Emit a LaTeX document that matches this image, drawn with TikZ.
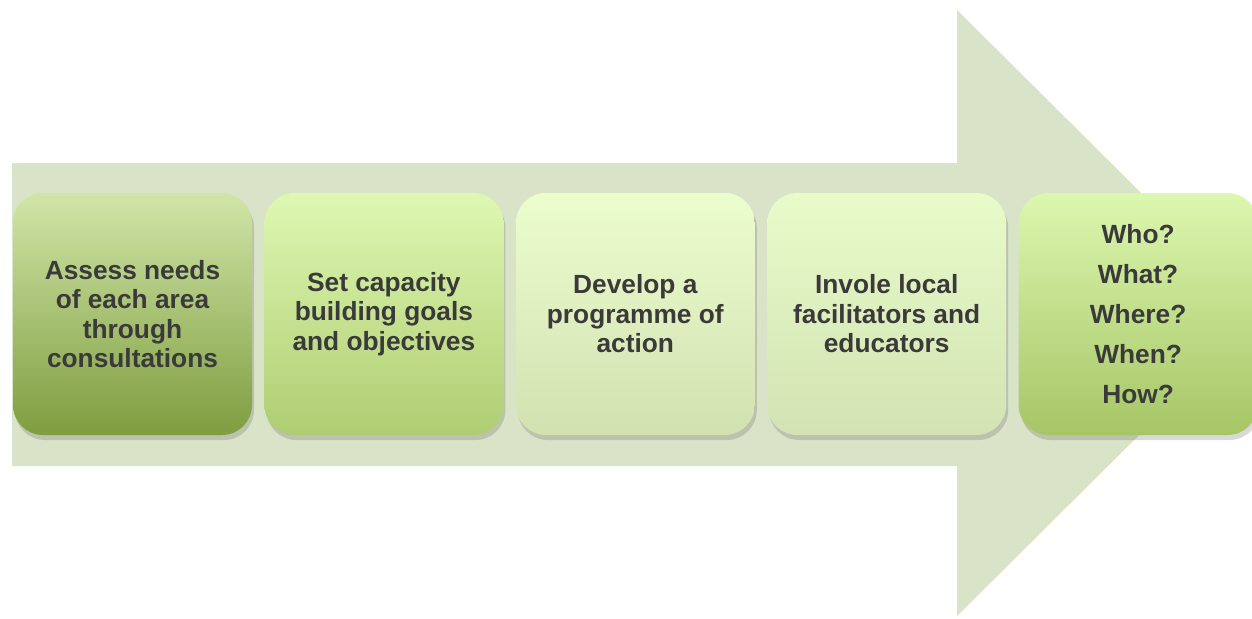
\documentclass[tikz,border=0pt]{standalone}
\usepackage{fontspec}
\setmainfont{Liberation Sans}
\usetikzlibrary{positioning,shadows}
\definecolor{arrowfill}{HTML}{D8E3C7}
\definecolor{txt}{HTML}{3A3A3A}
\definecolor{topA}{HTML}{D2E5A8}
\definecolor{botA}{HTML}{7E9E40}
\definecolor{topB}{HTML}{DEF8B2}
\definecolor{botB}{HTML}{AFCD72}
\definecolor{topC}{HTML}{ECFDCE}
\definecolor{botC}{HTML}{D2E1B0}
\definecolor{topD}{HTML}{E8FBC9}
\definecolor{botD}{HTML}{D3E3B3}
\definecolor{topE}{HTML}{DCF7AF}
\definecolor{botE}{HTML}{A6C666}

\begin{document}
\begin{tikzpicture}[x=1pt,y=-1pt,node distance=12pt,
		stage/.style={rounded corners=30pt, minimum width=239pt, minimum height=242pt,
			align=center, text=txt, inner sep=0pt,
			font=\fontsize{26.3}{29.5}\selectfont\bfseries,
			drop shadow={shadow xshift=2pt, shadow yshift=-5pt, opacity=0.25, fill=black!60}}]
			\useasboundingbox (0,0) rectangle (1252,618);
			\fill[arrowfill] (12,163) -- (957,163) -- (957,10) -- (1262,313) -- (957,616)
			-- (957,466) -- (12,466) -- cycle;
			\node[stage, top color=topA, bottom color=botA] (s_1) at (132.5,314)
			{Assess needs\\of each area\\through\\consultations};
			\node[stage, top color=topB, bottom color=botB] (s_2) [right=of s_1]
			{Set capacity\\building goals\\and objectives};
			\node[stage, top color=topC, bottom color=botC] (s_3) [right=of s_2]
			{Develop a\\programme of\\action};
			\node[stage, top color=topD, bottom color=botD] (s_4) [right=of s_3]
			{Invole local\\facilitators and\\educators};
			\node[stage, top color=topE, bottom color=botE,
			font=\fontsize{26.3}{39.8}\selectfont\bfseries] (s_5) [right=of s_4]
			{Who?\\What?\\Where?\\When?\\How?};
		\end{tikzpicture}
\end{document}
